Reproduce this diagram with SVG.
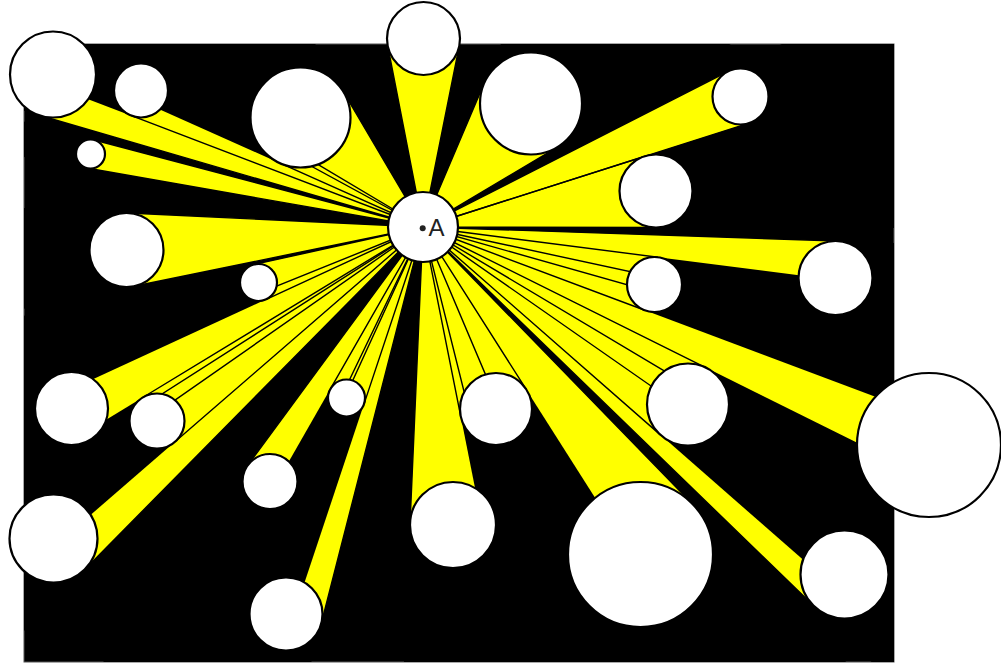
<svg xmlns="http://www.w3.org/2000/svg" width="1001" height="663" viewBox="0 0 1001 663">
<style>
.cone{fill:#ffff00;stroke:none}
.edge{fill:none;stroke:#000;stroke-width:1.4;stroke-linejoin:miter}
.shadow{fill:#000;stroke:none}
.node circle{fill:#fff;stroke:#000;stroke-width:2.2}
.lbl{font-family:"Liberation Sans",Arial,sans-serif;font-size:24px;fill:#222}
</style>
<defs>
<clipPath id="frame"><rect x="24" y="44" width="870" height="618"/></clipPath>
</defs>
<rect x="0" y="0" width="1001" height="663" fill="#fff"/>
<rect id="field" x="24" y="44" width="870" height="618" fill="#000" stroke="#555" stroke-width="1"/>
<g id="connectors" clip-path="url(#frame)">
<g id="cones">
<polygon class="cone" points="423,227 73.56,36.73 40.98,115.79"/>
<polygon class="cone" points="423,227 154.82,67.30 131.38,115.72"/>
<polygon class="cone" points="423,227 94.21,140.0 88.0,168.3"/>
<polygon class="cone" points="423,227 343.58,92.13 280.10,163.15"/>
<polygon class="cone" points="423,227 459.29,45.67 387.67,45.47"/>
<polygon class="cone" points="423,227 128.25,213.04 133.93,286.24"/>
<polygon class="cone" points="423,227 254.49,264.44 266.25,299.30"/>
<polygon class="cone" points="423,227 557.05,147.34 484.07,83.52"/>
<polygon class="cone" points="423,227 749.0,123.18 727.78,71.56"/>
<polygon class="cone" points="423,227 655.93,227.5 644.91,156.22"/>
<polygon class="cone" points="423,227 827.71,314.17 836.75,241.03"/>
<polygon class="cone" points="423,227 644.84,310.25 658.0,257.23"/>
<polygon class="cone" points="423,227 57.82,374.67 91.16,439.25"/>
<polygon class="cone" points="423,227 142.71,397.51 175.01,441.79"/>
<polygon class="cone" points="423,227 330.44,388.81 364.06,403.85"/>
<polygon class="cone" points="423,227 247.84,465.21 294.78,493.43"/>
<polygon class="cone" points="423,227 28.32,502.42 84.80,569.42"/>
<polygon class="cone" points="423,227 252.81,598.81 321.35,623.07"/>
<polygon class="cone" points="423,227 410.04,523.12 494.72,514.60"/>
<polygon class="cone" points="423,227 460.69,416.04 526.39,389.70"/>
<polygon class="cone" points="423,227 660.99,435.35 706.25,367.79"/>
<polygon class="cone" points="423,227 573.74,582.78 692.46,503.94"/>
<polygon class="cone" points="423,227 892.12,506.84 948.60,375.72"/>
<polygon class="cone" points="423,227 813.86,606.08 869.66,538.40"/>
</g>
<g id="edges">
<polyline class="edge" points="73.56,36.73 423,227 40.98,115.79"/>
<polyline class="edge" points="154.82,67.30 423,227 131.38,115.72"/>
<polyline class="edge" points="94.21,140.0 423,227 88.0,168.3"/>
<polyline class="edge" points="343.58,92.13 423,227 280.10,163.15"/>
<polyline class="edge" points="459.29,45.67 423,227 387.67,45.47"/>
<polyline class="edge" points="128.25,213.04 423,227 133.93,286.24"/>
<polyline class="edge" points="254.49,264.44 423,227 266.25,299.30"/>
<polyline class="edge" points="557.05,147.34 423,227 484.07,83.52"/>
<polyline class="edge" points="749.0,123.18 423,227 727.78,71.56"/>
<polyline class="edge" points="655.93,227.5 423,227 644.91,156.22"/>
<polyline class="edge" points="827.71,314.17 423,227 836.75,241.03"/>
<polyline class="edge" points="644.84,310.25 423,227 658.0,257.23"/>
<polyline class="edge" points="57.82,374.67 423,227 91.16,439.25"/>
<polyline class="edge" points="142.71,397.51 423,227 175.01,441.79"/>
<polyline class="edge" points="330.44,388.81 423,227 364.06,403.85"/>
<polyline class="edge" points="247.84,465.21 423,227 294.78,493.43"/>
<polyline class="edge" points="28.32,502.42 423,227 84.80,569.42"/>
<polyline class="edge" points="252.81,598.81 423,227 321.35,623.07"/>
<polyline class="edge" points="410.04,523.12 423,227 494.72,514.60"/>
<polyline class="edge" points="460.69,416.04 423,227 526.39,389.70"/>
<polyline class="edge" points="660.99,435.35 423,227 706.25,367.79"/>
<polyline class="edge" points="573.74,582.78 423,227 692.46,503.94"/>
<polyline class="edge" points="892.12,506.84 423,227 948.60,375.72"/>
<polyline class="edge" points="813.86,606.08 423,227 869.66,538.40"/>
</g>
</g>
<g id="shadows" clip-path="url(#frame)">
<polygon class="shadow" points="73.56,36.73 -1673.6,-914.6 -1869.1,-440.3 40.98,115.79"/>
<polygon class="shadow" points="154.82,67.30 -1186.1,-731.2 -1326.7,-440.7 131.38,115.72"/>
<polygon class="shadow" points="94.21,140.0 -1549.7,-295 -1587,-125.2 88.0,168.3"/>
<polygon class="shadow" points="343.58,92.13 -53.5,-582.2 -434.4,-156.1 280.10,163.15"/>
<polygon class="shadow" points="459.29,45.67 640.7,-861 211,-862.2 387.67,45.47"/>
<polygon class="shadow" points="128.25,213.04 -1345.5,143.2 -1311.4,582.4 133.93,286.24"/>
<polygon class="shadow" points="254.49,264.44 -588.1,451.6 -517.5,660.8 266.25,299.30"/>
<polygon class="shadow" points="557.05,147.34 1227.3,-251 789.4,-633.9 484.07,83.52"/>
<polygon class="shadow" points="749.0,123.18 2379,-395.9 2251.7,-705.6 727.78,71.56"/>
<polygon class="shadow" points="655.93,227.5 1820.6,230 1754.5,-197.7 644.91,156.22"/>
<polygon class="shadow" points="827.71,314.17 2851.3,750 2905.5,311.2 836.75,241.03"/>
<polygon class="shadow" points="644.84,310.25 1754,726.5 1833,408.4 658.0,257.23"/>
<polygon class="shadow" points="57.82,374.67 -1768.1,1113 -1568,1500.5 91.16,439.25"/>
<polygon class="shadow" points="142.71,397.51 -1258.7,1250.1 -1064.9,1515.7 175.01,441.79"/>
<polygon class="shadow" points="330.44,388.81 -132.4,1197.9 69.4,1288.1 364.06,403.85"/>
<polygon class="shadow" points="247.84,465.21 -628,1656.3 -346.3,1825.6 294.78,493.43"/>
<polygon class="shadow" points="28.32,502.42 -1945.1,1879.5 -1606.2,2281.5 84.80,569.42"/>
<polygon class="shadow" points="252.81,598.81 -598.1,2457.9 -186.9,2603.4 321.35,623.07"/>
<polygon class="shadow" points="410.04,523.12 345.2,2003.7 853.3,1952.6 494.72,514.60"/>
<polygon class="shadow" points="460.69,416.04 649.1,1361.2 1043.3,1203.2 526.39,389.70"/>
<polygon class="shadow" points="660.99,435.35 1850.9,1477.1 2122.5,1071.7 706.25,367.79"/>
<polygon class="shadow" points="573.74,582.78 1327.4,2361.7 2039.8,1888.6 692.46,503.94"/>
<polygon class="shadow" points="892.12,506.84 3237.7,1906 3576.6,1119.3 948.60,375.72"/>
<polygon class="shadow" points="813.86,606.08 2768.2,2501.5 3103,2095.4 869.66,538.40"/>
</g>
<g id="n1" class="node"><circle cx="53" cy="74.5" r="43"/></g>
<g id="n2" class="node"><circle cx="141" cy="90.5" r="27"/></g>
<g id="n3" class="node"><circle cx="90.5" cy="154" r="14.5"/></g>
<g id="n4" class="node"><circle cx="300.5" cy="117.5" r="50"/></g>
<g id="n5" class="node"><circle cx="423.5" cy="38.5" r="36.5"/></g>
<g id="n6" class="node"><circle cx="126.5" cy="250" r="37"/></g>
<g id="n7" class="node"><circle cx="258.5" cy="282.5" r="18.5"/></g>
<g id="n8" class="node"><circle cx="531" cy="103.5" r="51"/></g>
<g id="n9" class="node"><circle cx="740.5" cy="96.5" r="28"/></g>
<g id="n10" class="node"><circle cx="656" cy="191" r="36.5"/></g>
<g id="n11" class="node"><circle cx="835.5" cy="278" r="37"/></g>
<g id="n12" class="node"><circle cx="654.5" cy="284.5" r="27.5"/></g>
<g id="n13" class="node"><circle cx="71.5" cy="408.5" r="36.5"/></g>
<g id="n14" class="node"><circle cx="157" cy="421" r="27.5"/></g>
<g id="n15" class="node"><circle cx="346.5" cy="398" r="18.5"/></g>
<g id="n16" class="node"><circle cx="270" cy="481.5" r="27.5"/></g>
<g id="n17" class="node"><circle cx="53.5" cy="538.5" r="44"/></g>
<g id="n18" class="node"><circle cx="286" cy="614" r="36.5"/></g>
<g id="n19" class="node"><circle cx="453" cy="525" r="43"/></g>
<g id="n20" class="node"><circle cx="496" cy="409" r="36"/></g>
<g id="n21" class="node"><circle cx="688" cy="404.5" r="41"/></g>
<g id="n22" class="node"><circle cx="640.5" cy="554.5" r="72.5"/></g>
<g id="n23" class="node"><circle cx="929" cy="445" r="72"/></g>
<g id="n24" class="node"><circle cx="844.5" cy="574.5" r="44"/></g>
<g id="nA" class="node">
<circle cx="423" cy="227" r="35"/>
<circle cx="422.7" cy="228.3" r="3" style="fill:#222;stroke:none"/>
<text class="lbl" x="428.5" y="236">A</text>
</g>
</svg>
